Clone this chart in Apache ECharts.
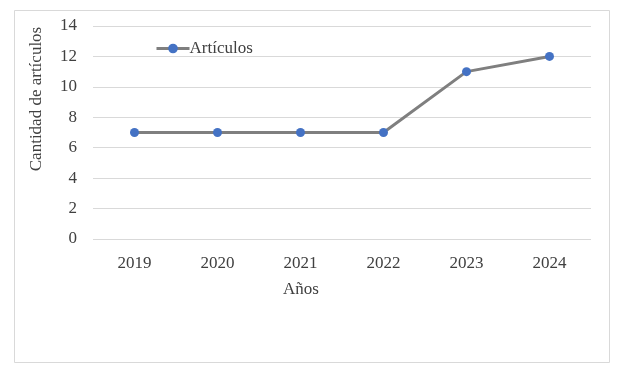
<!DOCTYPE html>
<html>
<head>
<meta charset="utf-8">
<script src="https://cdn.jsdelivr.net/npm/echarts@6/dist/echarts.min.js"></script>
<style>
  html, body { margin: 0; padding: 0; background: #fff; }
  #chart { width: 627px; height: 370px; }
</style>
</head>
<body>
<div id="chart"></div>
<script>
const years = ['2019', '2020', '2021', '2022', '2023', '2024']
const articulos = [7, 7, 7, 7, 11, 12]
const seriesName = 'Artículos'
const xTitle = 'Años'
const yTitle = 'Cantidad de artículos'

const chart = echarts.init(document.getElementById('chart'))
const font = 'Liberation Serif'
const textColor = '#404040'

chart.setOption({
  backgroundColor: '#fff',
  animation: false,
  textStyle: { fontFamily: font },
  grid: { left: 93, right: 36, top: 26, bottom: 131 },
  legend: {
    data: [seriesName],
    left: 150, top: 35,
    itemWidth: 33, itemHeight: 12, itemGap: 2,
    lineStyle: { width: 3, color: '#7f7f7f' },
    textStyle: { fontFamily: font, fontSize: 17, color: textColor, padding: [0, 0, 0, -5] }
  },
  graphic: [
    {
      type: 'rect', left: 12, top: 8, silent: true,
      shape: { width: 595, height: 352 },
      style: { fill: 'none', stroke: '#d9d9d9', lineWidth: 1 }
    },
    {
      type: 'text', x: 301, y: 290,
      style: { text: xTitle, fontFamily: font, fontSize: 17, fill: textColor, align: 'center', verticalAlign: 'middle' }
    },
    {
      type: 'text', x: 37, y: 99, rotation: Math.PI / 2,
      style: { text: yTitle, fontFamily: font, fontSize: 17, fill: textColor, align: 'center', verticalAlign: 'middle' }
    }
  ],
  xAxis: {
    type: 'category',
    data: years,
    boundaryGap: true,
    axisLine: { show: false },
    axisTick: { show: false },
    axisLabel: { color: textColor, fontSize: 17, margin: 16 }
  },
  yAxis: {
    type: 'value',
    min: 0, max: 14, interval: 2,
    axisLine: { show: false },
    axisTick: { show: false },
    axisLabel: { color: textColor, fontSize: 17, margin: 16 },
    splitLine: { lineStyle: { color: '#d9d9d9', width: 1 } }
  },
  series: [{
    name: seriesName,
    type: 'line',
    data: articulos,
    symbol: 'circle',
    symbolSize: 9,
    lineStyle: { color: '#7f7f7f', width: 3 },
    itemStyle: { color: '#4472c4' }
  }]
})
</script>
</body>
</html>
